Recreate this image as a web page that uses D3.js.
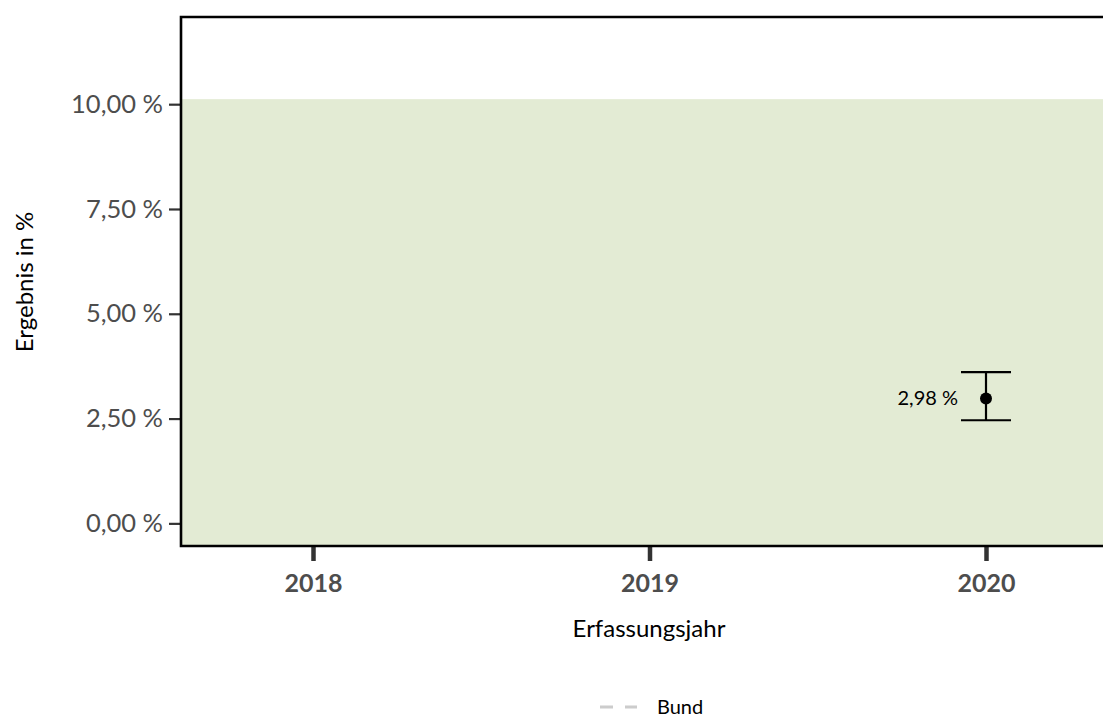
<!DOCTYPE html>
<html>
<head>
<meta charset="utf-8">
<script src="https://cdn.jsdelivr.net/npm/d3@7.9.0/dist/d3.min.js"></script>
<style>
  body { margin: 0; background: #fff; }
  svg { display: block; font-family: Lato, "Open Sans", sans-serif; }
</style>
</head>
<body>
<svg id="chart" width="1103" height="718"></svg>
<script>
// Data
const years = [2018, 2019, 2020];
const results = [null, null, 2.98];
const ciLower = [null, null, 2.46];
const ciUpper = [null, null, 3.61];
const yTicks = [0, 2.5, 5, 7.5, 10];
const bandUpper = 10.12;
const legendItems = ["Bund"];

const width = 1103, height = 718;
const margin = { top: 17, left: 181, bottom: 546 };
const panelRight = 1118;

const de = d3.formatLocale({ decimal: ",", thousands: ".", grouping: [3], currency: ["", " €"] });
const fmt = d => de.format(".2f")(d) + " %";

const svg = d3.select("#chart");

const x = d3.scalePoint()
  .domain(years)
  .range([313, 986]);

const y = d3.scaleLinear()
  .domain([-0.54, 12.08])
  .range([margin.bottom, margin.top]);

// green target band
svg.append("rect")
  .attr("x", margin.left)
  .attr("y", y(bandUpper))
  .attr("width", panelRight - margin.left)
  .attr("height", margin.bottom - y(bandUpper))
  .attr("fill", "#e3ebd4");

// y axis
const yAxis = svg.append("g")
  .attr("transform", `translate(${margin.left},0)`)
  .call(d3.axisLeft(y).tickValues(yTicks).tickFormat(fmt).tickSize(12).tickPadding(6));
yAxis.select(".domain").remove();
yAxis.selectAll(".tick line").attr("stroke", "#333").attr("stroke-width", 2.2);
yAxis.selectAll(".tick text")
  .attr("fill", "#4d4d4d")
  .style("font-size", "25.5px")
  .style("font-family", "Lato, sans-serif");

// x axis
const xAxis = svg.append("g")
  .attr("transform", `translate(0,${margin.bottom})`)
  .call(d3.axisBottom(x).tickSize(15).tickPadding(13));
xAxis.select(".domain").remove();
xAxis.selectAll(".tick line").attr("stroke", "#333").attr("stroke-width", 4.5);
xAxis.selectAll(".tick text")
  .attr("fill", "#4d4d4d")
  .style("font-size", "25px")
  .style("font-weight", "bold")
  .style("font-family", "Lato, sans-serif");

// panel border
svg.append("path")
  .attr("d", `M${panelRight},${margin.top}H${margin.left}V${margin.bottom}H${panelRight}`)
  .attr("fill", "none")
  .attr("stroke", "#000")
  .attr("stroke-width", 2.6);

// error bars
const pts = years.map((yr, i) => ({ yr, v: results[i], lo: ciLower[i], hi: ciUpper[i] }))
  .filter(d => d.v != null);

const eb = svg.append("g").selectAll("g").data(pts).join("g");
eb.append("line")
  .attr("x1", d => x(d.yr)).attr("x2", d => x(d.yr))
  .attr("y1", d => y(d.lo)).attr("y2", d => y(d.hi))
  .attr("stroke", "#000").attr("stroke-width", 2.2);
eb.selectAll(".cap")
  .data(d => [d.lo, d.hi].map(v => ({ yr: d.yr, v })))
  .join("line")
  .attr("class", "cap")
  .attr("x1", d => x(d.yr) - 25).attr("x2", d => x(d.yr) + 25)
  .attr("y1", d => y(d.v)).attr("y2", d => y(d.v))
  .attr("stroke", "#000").attr("stroke-width", 2.2);
eb.append("circle")
  .attr("cx", d => x(d.yr)).attr("cy", d => y(d.v))
  .attr("r", 6).attr("fill", "#000");
eb.append("text")
  .attr("x", d => x(d.yr) - 28).attr("y", d => y(d.v))
  .attr("dy", "0.35em")
  .attr("text-anchor", "end")
  .style("font-size", "20px")
  .attr("fill", "#000")
  .text(d => fmt(d.v));

// axis titles
svg.append("text")
  .attr("x", 649).attr("y", 637)
  .attr("text-anchor", "middle")
  .style("font-size", "24px")
  .attr("fill", "#000")
  .text("Erfassungsjahr");

svg.append("text")
  .attr("transform", "translate(33,282) rotate(-90)")
  .attr("text-anchor", "middle")
  .style("font-size", "24px")
  .attr("fill", "#000")
  .text("Ergebnis in %");

// legend
const lg = svg.append("g").attr("transform", "translate(600,707)");
lg.selectAll("line").data(legendItems).join("line")
  .attr("x1", 0).attr("x2", 37).attr("y1", 0).attr("y2", 0)
  .attr("stroke", "#cccccc").attr("stroke-width", 3)
  .attr("stroke-dasharray", "13,12");
lg.selectAll("text").data(legendItems).join("text")
  .attr("x", 57).attr("y", 0).attr("dy", "0.35em")
  .style("font-size", "20px")
  .attr("fill", "#000")
  .text(d => d);
</script>
</body>
</html>
